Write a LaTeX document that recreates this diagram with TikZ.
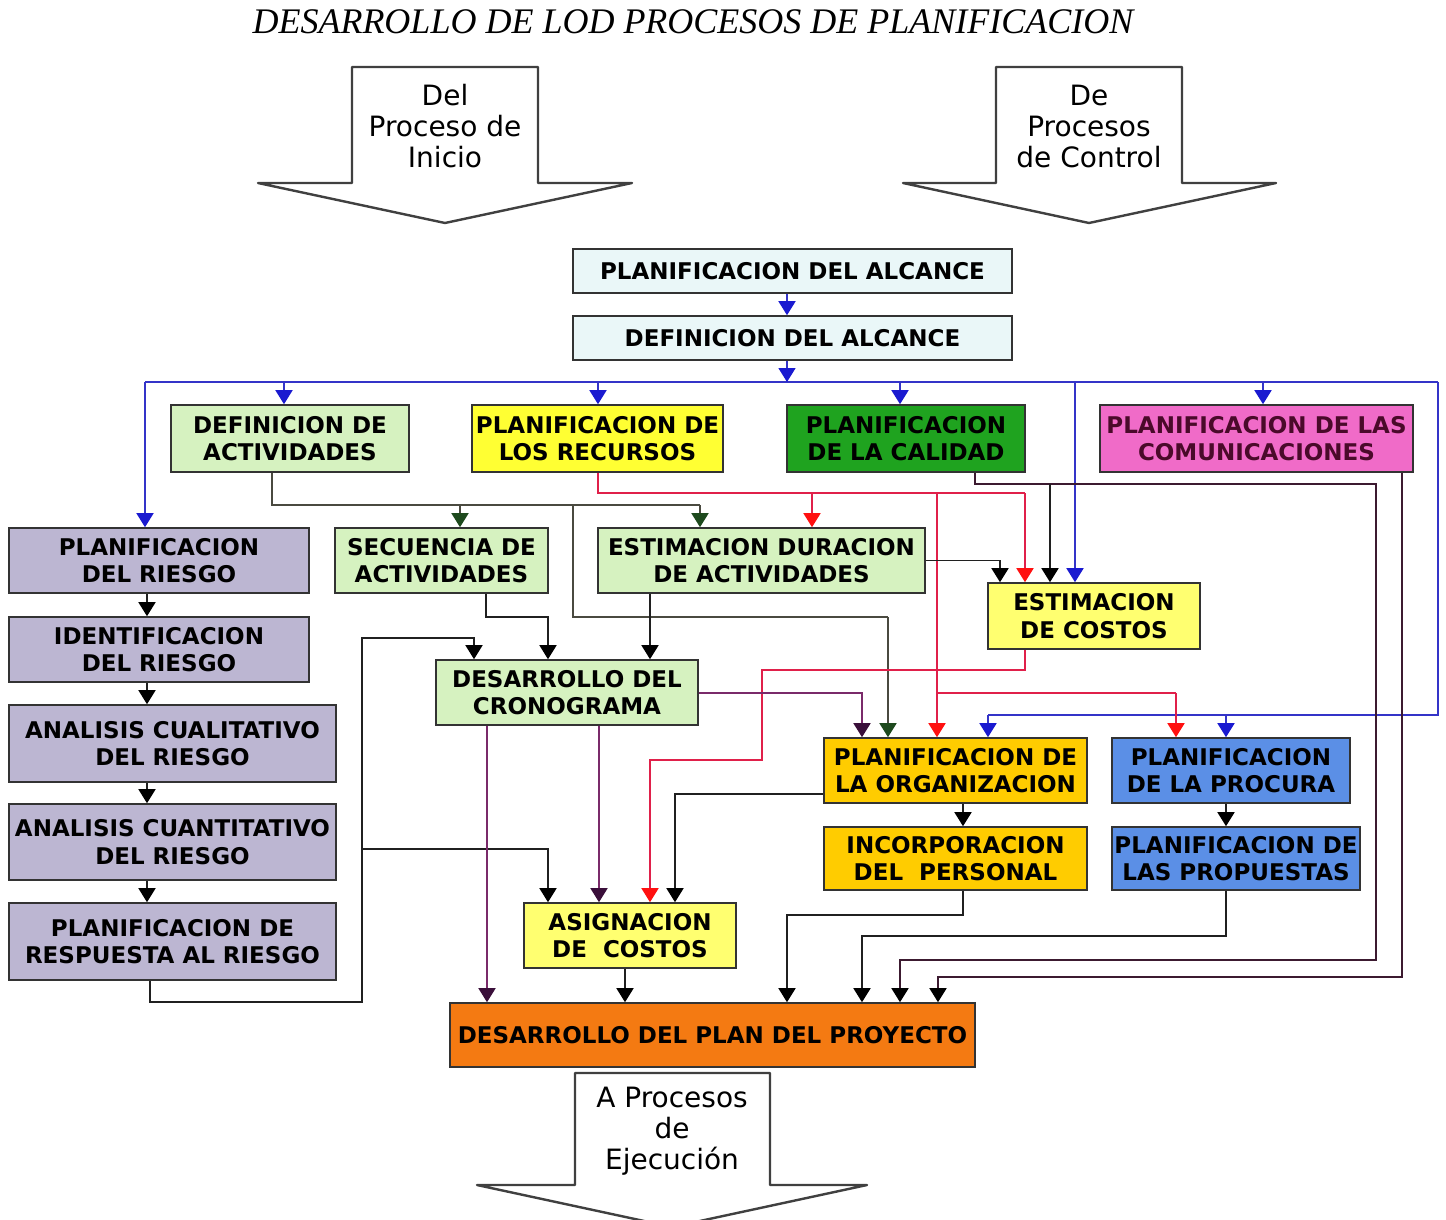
\documentclass[tikz,border=0pt]{standalone}
\usepackage{fontspec}
\setmainfont{DejaVu Sans}
\newfontfamily\titlefont{Liberation Serif}
\usetikzlibrary{arrows.meta}

\definecolor{fcyan}{HTML}{EAF7F8}
\definecolor{fgreenl}{HTML}{D6F2C0}
\definecolor{fyellow}{HTML}{FFFF33}
\definecolor{fyellowl}{HTML}{FFFF70}
\definecolor{fgreen}{HTML}{1FA31F}
\definecolor{fpink}{HTML}{F06BC8}
\definecolor{flav}{HTML}{BCB6D2}
\definecolor{fgold}{HTML}{FFCC00}
\definecolor{fblue}{HTML}{5B8FE6}
\definecolor{forange}{HTML}{F47A12}
\definecolor{tmaroon}{HTML}{4A0A2A}
\definecolor{cblue}{HTML}{3434C8}
\definecolor{hblue}{HTML}{1A1AD0}
\definecolor{cgray}{HTML}{4A4A40}
\definecolor{hgreen}{HTML}{1E4A1E}
\definecolor{cred}{HTML}{E0204A}
\definecolor{hred}{HTML}{FF1010}
\definecolor{cpurple}{HTML}{7A2A6A}
\definecolor{hpurple}{HTML}{3A0F3A}
\definecolor{cmaroon}{HTML}{3C1A30}
\definecolor{cblack}{HTML}{202020}

\begin{document}
\begin{tikzpicture}[x=1pt,y=-1pt,
  box/.style={draw=black!80, line width=1.6pt, inner sep=0pt, align=center,
    font=\bfseries\fontsize{23}{27.5}\selectfont},
  sz/.style 2 args={minimum width=#1pt, minimum height=#2pt},
  bigarrow/.style={draw=black!75, line width=2.4pt, fill=white, line join=round},
  bigtext/.style={align=center, font=\fontsize{28}{31}\selectfont},
  conn/.style={line width=1.6pt},
  tipshape/.style={-{Triangle[width=17pt,length=14pt,color=#1]}},
  bl/.style={conn, draw=cblue},
  bla/.style={bl, tipshape=hblue},
  gl/.style={conn, draw=cgray},
  gla/.style={gl, tipshape=hgreen},
  rl/.style={conn, draw=cred},
  rla/.style={rl, tipshape=hred},
  kla/.style={conn, draw=cblack, tipshape=black},
  mla/.style={conn, draw=cmaroon, tipshape=black},
  ml/.style={conn, draw=cmaroon},
  pla/.style={conn, draw=cpurple, tipshape=hpurple},
]
\clip (0,0) rectangle (1446,1220);
\fill[white] (0,0) rectangle (1446,1220);

% title
\node[font=\titlefont\itshape\fontsize{36}{40}\selectfont] (title) at (693,22)
  {DESARROLLO DE LOD PROCESOS DE PLANIFICACION};

% incoming and outgoing block arrows
\draw[bigarrow] (352,67) -- (538,67) -- (538,183) -- (632,183) -- (445,223)
  -- (258,183) -- (352,183) -- cycle;
\node[bigtext] (inicio) at (445,126) {Del\\Proceso de\\Inicio};
\draw[bigarrow] (996,67) -- (1182,67) -- (1182,183) -- (1276,183) -- (1089,223)
  -- (903,183) -- (996,183) -- cycle;
\node[bigtext] (control) at (1089,126) {De\\Procesos\\de Control};
\draw[bigarrow] (575,1073) -- (770,1073) -- (770,1185) -- (867,1185) -- (672,1227)
  -- (477,1185) -- (575,1185) -- cycle;
\node[bigtext] (ejecucion) at (672,1131) {A Procesos\\de\\Ejecución};

% process boxes
\node[box, sz={439}{44}, fill=fcyan] (alc1) at (792.5,271) {PLANIFICACION DEL ALCANCE};
\node[box, sz={439}{44}, fill=fcyan] (alc2) at (792.5,338) {DEFINICION DEL ALCANCE};
\node[box, sz={238}{67}, fill=fgreenl] (defact) at (290,438.5) {DEFINICION DE\\ACTIVIDADES};
\node[box, sz={251}{67}, fill=fyellow] (recur) at (597.5,438.5) {PLANIFICACION DE\\LOS RECURSOS};
\node[box, sz={238}{67}, fill=fgreen] (calid) at (906,438.5) {PLANIFICACION\\DE LA CALIDAD};
\node[box, sz={313}{67}, fill=fpink, text=tmaroon] (comun) at (1256.5,438.5) {PLANIFICACION DE LAS\\COMUNICACIONES};
\node[box, sz={300}{65}, fill=flav] (priesgo) at (159,560.5) {PLANIFICACION\\DEL RIESGO};
\node[box, sz={213}{65}, fill=fgreenl] (secu) at (441.5,560.5) {SECUENCIA DE\\ACTIVIDADES};
\node[box, sz={327}{65}, fill=fgreenl] (estdur) at (761.5,560.5) {ESTIMACION DURACION\\DE ACTIVIDADES};
\node[box, sz={212}{66}, fill=fyellowl] (estcos) at (1094,616) {ESTIMACION\\DE COSTOS};
\node[box, sz={300}{65}, fill=flav] (ident) at (159,649.5) {IDENTIFICACION\\DEL RIESGO};
\node[box, sz={262}{65}, fill=fgreenl] (crono) at (567,692.5) {DESARROLLO DEL\\CRONOGRAMA};
\node[box, sz={327}{77}, fill=flav] (cuali) at (172.5,743.5) {ANALISIS CUALITATIVO\\DEL RIESGO};
\node[box, sz={263}{65}, fill=fgold] (organ) at (955.5,770.5) {PLANIFICACION DE\\LA ORGANIZACION};
\node[box, sz={238}{65}, fill=fblue] (procu) at (1231,770.5) {PLANIFICACION\\DE LA PROCURA};
\node[box, sz={327}{76}, fill=flav] (cuanti) at (172.5,842) {ANALISIS CUANTITATIVO\\DEL RIESGO};
\node[box, sz={263}{63}, fill=fgold] (incorp) at (955.5,858.5) {INCORPORACION\\DEL\ \ PERSONAL};
\node[box, sz={248}{63}, fill=fblue] (propu) at (1236,858.5) {PLANIFICACION DE\\LAS PROPUESTAS};
\node[box, sz={327}{77}, fill=flav] (respu) at (172.5,941.5) {PLANIFICACION DE\\RESPUESTA AL RIESGO};
\node[box, sz={212}{65}, fill=fyellowl] (asign) at (630,935.5) {ASIGNACION\\DE\ \ COSTOS};
\node[box, sz={525}{64}, fill=forange] (plan) at (712.5,1035) {DESARROLLO DEL PLAN DEL PROYECTO};

% scope definition and the blue distribution bus
\coordinate (cx) at (787,0);
\coordinate (bus) at (0,382);
\coordinate (busL) at (145,382);
\coordinate (busR) at (1438,382);
\draw[bla] (alc1.south -| cx) -- (alc2.north -| cx);
\draw[bl] (busL) -- (busR);
\draw[bla] (alc2.south -| cx) -- (cx |- bus);
\draw[bla] (busL) -- (priesgo.north -| busL);
\coordinate (bd1) at (284,382);
\coordinate (bd2) at (598,382);
\coordinate (bd3) at (900,382);
\coordinate (bd4) at (1075,382);
\coordinate (bd5) at (1263,382);
\draw[bla] (bd1) -- (defact.north -| bd1);
\draw[bla] (bd2) -- (recur.north -| bd2);
\draw[bla] (bd3) -- (calid.north -| bd3);
\draw[bla] (bd4) -- (estcos.north -| bd4);
\draw[bla] (bd5) -- (comun.north -| bd5);
\coordinate (rb1) at (1438,715);
\coordinate (rb2) at (988,715);
\coordinate (rb3) at (1226,715);
\draw[bl] (busR) -- (rb1) -- (rb2);
\draw[bla] (rb2) -- (organ.north -| rb2);
\draw[bla] (rb3) -- (procu.north -| rb3);

% activity definition outputs
\coordinate (g1) at (272,505);
\coordinate (g2) at (700,505);
\coordinate (g3) at (460,505);
\coordinate (g4) at (573,505);
\coordinate (g5) at (573,617);
\coordinate (g6) at (888,617);
\draw[gl] (defact.south -| g1) -- (g1) -- (g2);
\draw[gla] (g2) -- (estdur.north -| g2);
\draw[gla] (g3) -- (secu.north -| g3);
\draw[gl] (g4) -- (g5) -- (g6);
\draw[gla] (g6) -- (organ.north -| g6);

% resource planning outputs
\coordinate (r0) at (598,493);
\coordinate (r1) at (1025,493);
\coordinate (r2) at (812,493);
\coordinate (r3) at (937,493);
\coordinate (r4) at (937,693);
\coordinate (r5) at (1176,693);
\draw[rl] (recur.south -| r0) -- (r0) -- (r1);
\draw[rla] (r1) -- (estcos.north -| r1);
\draw[rla] (r2) -- (estdur.north -| r2);
\draw[rla] (r3) -- (organ.north -| r3);
\draw[rl] (r4) -- (r5);
\draw[rla] (r5) -- (procu.north -| r5);
\coordinate (r6) at (1025,670);
\coordinate (r7) at (762,670);
\coordinate (r8) at (762,760);
\coordinate (r9) at (650,760);
\draw[rla] (estcos.south -| r6) -- (r6) -- (r7) -- (r8) -- (r9) -- (asign.north -| r9);

% duration estimate to cost estimate
\coordinate (k1) at (1000,0);
\draw[kla] (estdur.east) -- (estdur.east -| k1) -- (estcos.north -| k1);

% quality and communications planning outputs
\coordinate (q1) at (975,484);
\coordinate (q2) at (1376,484);
\coordinate (q3) at (1376,960);
\coordinate (q4) at (900,960);
\coordinate (q5) at (1050,484);
\draw[mla] (calid.south -| q1) -- (q1) -- (q2) -- (q3) -- (q4) -- (plan.north -| q4);
\draw[kla] (q5) -- (estcos.north -| q5);
\coordinate (m1) at (1402,977);
\coordinate (m2) at (938,977);
\draw[mla] (comun.south -| m1) -- (m1) -- (m2) -- (plan.north -| m2);

% organisation and procurement chains
\coordinate (oi) at (963,0);
\coordinate (pp) at (1226,0);
\draw[kla] (organ.south -| oi) -- (incorp.north -| oi);
\draw[kla] (procu.south -| pp) -- (propu.north -| pp);
\coordinate (i1) at (963,915);
\coordinate (i2) at (787,915);
\draw[kla] (incorp.south -| i1) -- (i1) -- (i2) -- (plan.north -| i2);
\coordinate (p1) at (1226,936);
\coordinate (p2) at (862,936);
\draw[kla] (propu.south -| p1) -- (p1) -- (p2) -- (plan.north -| p2);
\coordinate (o1) at (675,794);
\draw[kla] (organ.west |- o1) -- (o1) -- (asign.north -| o1);
\coordinate (ap) at (625,0);
\draw[kla] (asign.south -| ap) -- (plan.north -| ap);

% schedule development inputs
\coordinate (s1) at (486,617);
\coordinate (s2) at (548,617);
\draw[kla] (secu.south -| s1) -- (s1) -- (s2) -- (crono.north -| s2);
\coordinate (e1) at (650,0);
\draw[kla] (estdur.south -| e1) -- (crono.north -| e1);

% risk chain
\coordinate (rk) at (147,0);
\draw[kla] (priesgo.south -| rk) -- (ident.north -| rk);
\draw[kla] (ident.south -| rk) -- (cuali.north -| rk);
\draw[kla] (cuali.south -| rk) -- (cuanti.north -| rk);
\draw[kla] (cuanti.south -| rk) -- (respu.north -| rk);
\coordinate (f1) at (150,1002);
\coordinate (f2) at (362,1002);
\coordinate (f3) at (362,638);
\coordinate (f4) at (474,638);
\coordinate (f5) at (362,849);
\coordinate (f6) at (548,849);
\draw[kla] (respu.south -| f1) -- (f1) -- (f2) -- (f3) -- (f4) -- (crono.north -| f4);
\draw[kla] (f5) -- (f6) -- (asign.north -| f6);

% schedule outputs
\coordinate (u1) at (862,693);
\coordinate (u2) at (487,0);
\coordinate (u3) at (599,0);
\draw[pla] (crono.east |- u1) -- (u1) -- (organ.north -| u1);
\draw[pla] (crono.south -| u2) -- (plan.north -| u2);
\draw[pla] (crono.south -| u3) -- (asign.north -| u3);
\end{tikzpicture}
\end{document}
